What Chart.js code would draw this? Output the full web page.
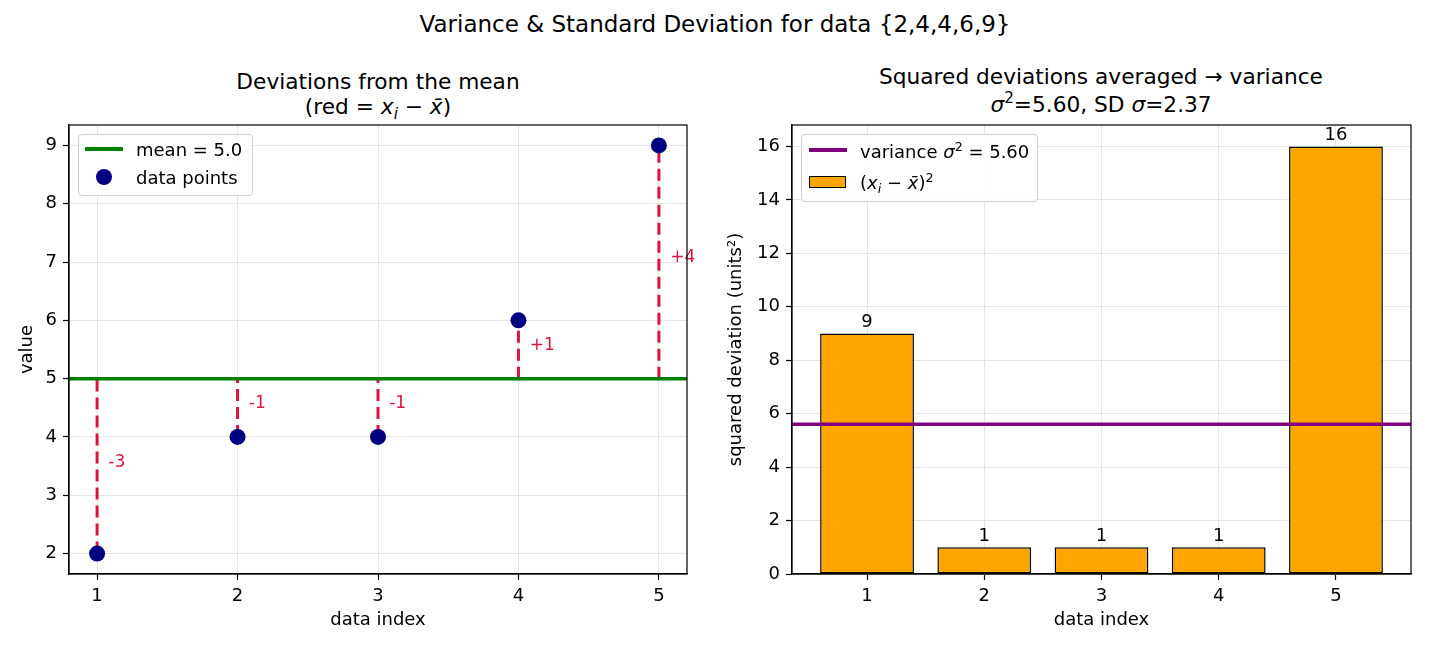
<!DOCTYPE html>
<html>
<head>
<meta charset="utf-8">
<script src="https://cdn.jsdelivr.net/npm/chart.js@4.4.1/dist/chart.umd.min.js"></script>
<style>
  body { margin: 0; background: #fff; font-family: "DejaVu Sans", sans-serif; color: #000; }
  #fig { position: relative; width: 1430px; height: 650px; overflow: hidden; }
  .panel { position: absolute; top: 0; width: 715px; height: 650px; }
  .ttl { position: absolute; transform: translate(-50%, -50%); white-space: nowrap; font-size: 21.7px; }
  .leg { position: absolute; background: rgba(255,255,255,0.85); border: 1px solid #d0d0d0; border-radius: 4px; font-size: 18px; z-index: 5; }
  .leg .it { position: absolute; transform: translateY(-50%); white-space: nowrap; }
  i { font-style: italic; }
  sup, sub { font-size: 70%; line-height: 0; }
</style>
</head>
<body>
<div id="fig">
  <div class="ttl" style="left:715px;top:24px;font-size:23px;">Variance &amp; Standard Deviation for data {2,4,4,6,9}</div>

  <div class="ttl" style="left:378px;top:81px;">Deviations from the mean</div>
  <div class="ttl" style="left:378px;top:106px;">(red = <i>x<sub>i</sub></i> − <i>x̄</i>)</div>

  <div class="ttl" style="left:1101px;top:76px;">Squared deviations averaged → variance</div>
  <div class="ttl" style="left:1101px;top:104px;"><i>σ</i><sup>2</sup>=5.60, SD <i>σ</i>=2.37</div>

  <div class="panel" style="left:0;"><canvas id="left" width="715" height="650"></canvas></div>
  <div class="panel" style="left:715px;"><canvas id="right" width="715" height="650"></canvas></div>

  <div class="leg" style="left:78px;top:134px;width:173px;height:60px;">
    <div style="position:absolute;left:6px;top:12px;width:38px;height:3.5px;background:green;"></div>
    <div class="it" style="left:57px;top:14px;">mean = 5.0</div>
    <div style="position:absolute;left:17px;top:34px;width:16px;height:16px;border-radius:50%;background:navy;"></div>
    <div class="it" style="left:57px;top:42px;">data points</div>
  </div>

  <div class="leg" style="left:801px;top:134px;width:235px;height:66px;">
    <div style="position:absolute;left:7px;top:13px;width:38px;height:3.5px;background:purple;"></div>
    <div class="it" style="left:58px;top:16px;">variance <i>σ</i><sup>2</sup> = 5.60</div>
    <div style="position:absolute;left:7px;top:41px;width:35px;height:10px;background:orange;border:1.5px solid #000;"></div>
    <div class="it" style="left:58px;top:47px;">(<i>x<sub>i</sub></i> − <i>x̄</i>)<sup>2</sup></div>
  </div>
</div>

<script>
// data
const dataIndex = [1, 2, 3, 4, 5];
const dataValues = [2, 4, 4, 6, 9];
const meanValue = 5.0;
const squaredDevs = [9, 1, 1, 1, 16];
const varianceValue = 5.6;

const xTicks = [1, 2, 3, 4, 5];
const leftYTicks = [2, 3, 4, 5, 6, 7, 8, 9];
const rightYTicks = [0, 2, 4, 6, 8, 10, 12, 14, 16];

const leftXRange = [0.8, 5.2];
const leftYRange = [1.65, 9.35];
const rightXRange = [0.36, 5.64];
const rightYRange = [0, 16.8];

const FONT = '"DejaVu Sans", sans-serif';
const GRID = '#e6e6e6';

Chart.defaults.font.family = FONT;
Chart.defaults.font.size = 18;
Chart.defaults.color = '#000';

function axis(range, ticks, title, isX, boxSize) {
  return {
    type: 'linear',
    min: range[0],
    max: range[1],
    offset: false,
    afterBuildTicks: function (s) { s.ticks = ticks.map(function (v) { return { value: v }; }); },
    afterFit: function (s) { if (isX) s.height = boxSize; else s.width = boxSize; },
    ticks: { padding: 6, color: '#000', font: { size: 18 }, maxRotation: 0, autoSkip: false,
             callback: function (v) { return String(v); } },
    grid: { offset: false, color: GRID, lineWidth: 1, drawTicks: true, tickLength: 6, tickColor: '#000', tickWidth: 1.2 },
    border: { display: true, color: '#000', width: 1.2 },
    title: { display: true, text: title, color: '#000', font: { size: 18 }, padding: { top: 4, bottom: 4 } }
  };
}

var framePlugin = {
  id: 'frame',
  afterDraw: function (chart) {
    var a = chart.chartArea, ctx = chart.ctx;
    ctx.save();
    ctx.strokeStyle = '#000';
    ctx.lineWidth = 1.2;
    ctx.strokeRect(a.left, a.top, a.right - a.left, a.bottom - a.top);
    ctx.restore();
  }
};

// deviation labels next to the dashed lines
var devLabels = {
  id: 'devLabels',
  afterDatasetsDraw: function (chart) {
    var ctx = chart.ctx, xs = chart.scales.x, ys = chart.scales.y;
    ctx.save();
    ctx.fillStyle = 'crimson';
    ctx.font = '17px ' + FONT;
    ctx.textAlign = 'left';
    ctx.textBaseline = 'middle';
    dataValues.forEach(function (v, i) {
      var d = v - meanValue;
      var txt = (d > 0 ? '+' : '') + d;
      ctx.fillText(txt, xs.getPixelForValue(dataIndex[i] + 0.08), ys.getPixelForValue((v + meanValue) / 2) - 4);
    });
    ctx.restore();
  }
};

// value labels on top of each bar
var barLabels = {
  id: 'barLabels',
  afterDatasetsDraw: function (chart) {
    var ctx = chart.ctx, meta = chart.getDatasetMeta(0);
    ctx.save();
    ctx.fillStyle = '#000';
    ctx.font = '18px ' + FONT;
    ctx.textAlign = 'center';
    ctx.textBaseline = 'alphabetic';
    meta.data.forEach(function (bar, i) {
      ctx.fillText(String(squaredDevs[i]), bar.x, bar.y - 6);
    });
    ctx.restore();
  }
};

var stems = dataValues.map(function (v, i) {
  return {
    data: [{ x: dataIndex[i], y: Math.min(v, meanValue) }, { x: dataIndex[i], y: Math.max(v, meanValue) }],
    showLine: true,
    borderColor: 'crimson',
    borderWidth: 3,
    borderDash: [12, 6],
    pointRadius: 0,
    order: 2
  };
});

var leftChart = new Chart(document.getElementById('left'), {
  type: 'scatter',
  data: {
    datasets: [
      {
        label: 'data points',
        data: dataIndex.map(function (x, i) { return { x: x, y: dataValues[i] }; }),
        backgroundColor: 'navy',
        borderWidth: 0,
        pointRadius: 8,
        order: 0
      },
      {
        label: 'mean = 5.0',
        data: [{ x: leftXRange[0], y: meanValue }, { x: leftXRange[1], y: meanValue }],
        showLine: true,
        borderColor: 'green',
        borderWidth: 3.5,
        pointRadius: 0,
        order: 1
      }
    ].concat(stems)
  },
  options: {
    responsive: false,
    animation: false,
    devicePixelRatio: 1,
    layout: { padding: { left: 13, right: 28, top: 125, bottom: 15 } },
    plugins: { legend: { display: false }, tooltip: { enabled: false } },
    scales: {
      x: axis(leftXRange, xTicks, 'data index', true, 61),
      y: axis(leftYRange, leftYTicks, 'value', false, 56)
    }
  },
  plugins: [framePlugin, devLabels]
});

var rightChart = new Chart(document.getElementById('right'), {
  type: 'bar',
  data: {
    datasets: [
      {
        type: 'bar',
        label: '(x_i - x̄)²',
        data: dataIndex.map(function (x, i) { return { x: x, y: squaredDevs[i] }; }),
        backgroundColor: 'orange',
        borderColor: '#000',
        borderWidth: 1.5,
        borderSkipped: false,
        barPercentage: 0.8,
        categoryPercentage: 1,
        order: 1
      },
      {
        type: 'line',
        label: 'variance',
        data: [{ x: rightXRange[0], y: varianceValue }, { x: rightXRange[1], y: varianceValue }],
        borderColor: 'purple',
        borderWidth: 3.5,
        pointRadius: 0,
        order: 0
      }
    ]
  },
  options: {
    responsive: false,
    animation: false,
    devicePixelRatio: 1,
    layout: { padding: { left: 7, right: 19, top: 125, bottom: 15 } },
    plugins: { legend: { display: false }, tooltip: { enabled: false } },
    scales: {
      x: axis(rightXRange, xTicks, 'data index', true, 61),
      y: axis(rightYRange, rightYTicks, 'squared deviation (units²)', false, 70)
    }
  },
  plugins: [framePlugin, barLabels]
});
</script>
</body>
</html>
